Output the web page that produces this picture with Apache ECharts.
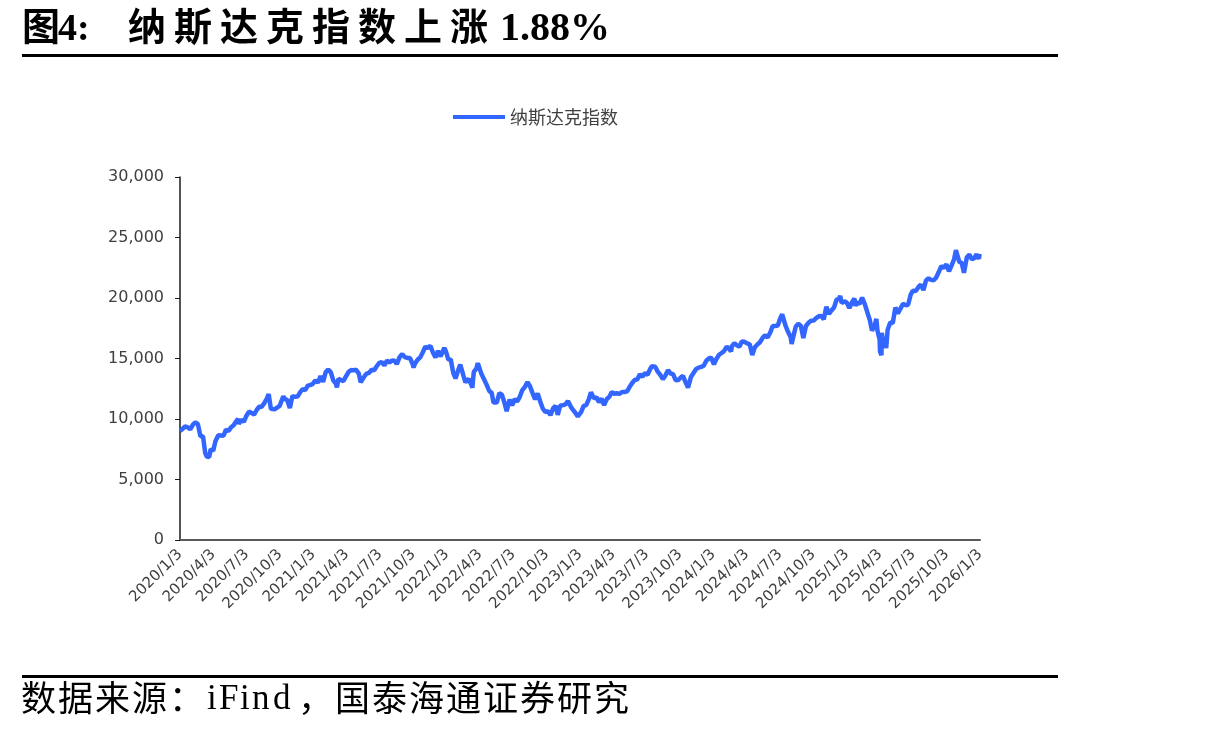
<!DOCTYPE html>
<html>
<head>
<meta charset="utf-8">
<script src="https://cdn.jsdelivr.net/npm/echarts@6/dist/echarts.min.js"></script>
<style>
  html, body { margin: 0; padding: 0; background: #fff; }
  #chart { width: 1213px; height: 731px; }
</style>
</head>
<body>
<div id="chart"></div>
<script>
// 纳斯达克指数 收盘（约每周一个点）
var dates = [
  '2020/1/3','2020/1/10','2020/1/17','2020/1/24','2020/1/31','2020/2/7','2020/2/14','2020/2/19','2020/2/21','2020/2/28',
  '2020/3/6','2020/3/12','2020/3/16','2020/3/20','2020/3/23','2020/3/27','2020/4/3','2020/4/9','2020/4/17','2020/4/24',
  '2020/5/1','2020/5/8','2020/5/15','2020/5/22','2020/5/29','2020/6/5','2020/6/10','2020/6/12','2020/6/19','2020/6/26',
  '2020/7/2','2020/7/10','2020/7/17','2020/7/24','2020/7/31','2020/8/7','2020/8/14','2020/8/21','2020/8/28','2020/9/2',
  '2020/9/8','2020/9/11','2020/9/18','2020/9/23','2020/10/2','2020/10/12','2020/10/16','2020/10/23','2020/10/30','2020/11/6',
  '2020/11/13','2020/11/20','2020/11/27','2020/12/4','2020/12/11','2020/12/18','2020/12/24','2020/12/31',
  '2021/1/8','2021/1/15','2021/1/22','2021/1/29','2021/2/5','2021/2/12','2021/2/19','2021/2/26','2021/3/5','2021/3/8',
  '2021/3/12','2021/3/19','2021/3/26','2021/4/1','2021/4/9','2021/4/16','2021/4/23','2021/4/29','2021/5/7','2021/5/12',
  '2021/5/21','2021/5/28','2021/6/4','2021/6/11','2021/6/18','2021/6/25','2021/7/2','2021/7/9','2021/7/16','2021/7/23',
  '2021/7/30','2021/8/6','2021/8/13','2021/8/19','2021/8/27','2021/9/3','2021/9/7','2021/9/10','2021/9/17','2021/9/24',
  '2021/10/1','2021/10/4','2021/10/8','2021/10/15','2021/10/22','2021/10/29','2021/11/5','2021/11/12','2021/11/19','2021/11/26',
  '2021/12/3','2021/12/10','2021/12/17','2021/12/27','2021/12/31',
  '2022/1/7','2022/1/14','2022/1/21','2022/1/27','2022/2/4','2022/2/9','2022/2/18','2022/2/23','2022/3/4','2022/3/11',
  '2022/3/14','2022/3/18','2022/3/25','2022/3/29','2022/4/8','2022/4/14','2022/4/22','2022/4/29','2022/5/6','2022/5/11',
  '2022/5/20','2022/5/24','2022/5/27','2022/6/3','2022/6/10','2022/6/16','2022/6/24','2022/7/1','2022/7/8','2022/7/15',
  '2022/7/22','2022/7/29','2022/8/5','2022/8/12','2022/8/16','2022/8/19','2022/8/26','2022/9/2','2022/9/9','2022/9/16',
  '2022/9/23','2022/9/30','2022/10/7','2022/10/14','2022/10/21','2022/10/28','2022/11/3','2022/11/10','2022/11/18','2022/11/25',
  '2022/12/1','2022/12/9','2022/12/16','2022/12/22','2022/12/28',
  '2023/1/6','2023/1/13','2023/1/20','2023/1/27','2023/2/2','2023/2/10','2023/2/17','2023/2/24','2023/3/3','2023/3/10',
  '2023/3/17','2023/3/24','2023/3/31','2023/4/7','2023/4/14','2023/4/21','2023/4/28','2023/5/5','2023/5/12','2023/5/19',
  '2023/5/26','2023/6/2','2023/6/9','2023/6/16','2023/6/23','2023/6/30','2023/7/7','2023/7/14','2023/7/19','2023/7/28',
  '2023/8/4','2023/8/11','2023/8/18','2023/8/25','2023/9/1','2023/9/8','2023/9/15','2023/9/22','2023/9/29','2023/10/6',
  '2023/10/12','2023/10/20','2023/10/26','2023/11/3','2023/11/10','2023/11/17','2023/11/24','2023/12/1','2023/12/8','2023/12/15',
  '2023/12/22','2023/12/28',
  '2024/1/5','2024/1/12','2024/1/19','2024/1/26','2024/2/2','2024/2/9','2024/2/16','2024/2/21','2024/2/23','2024/3/1',
  '2024/3/8','2024/3/15','2024/3/21','2024/3/28','2024/4/5','2024/4/12','2024/4/19','2024/4/26','2024/5/3','2024/5/10',
  '2024/5/17','2024/5/24','2024/5/31','2024/6/7','2024/6/14','2024/6/21','2024/6/28','2024/7/5','2024/7/10','2024/7/19',
  '2024/7/24','2024/8/2','2024/8/5','2024/8/9','2024/8/16','2024/8/23','2024/8/30','2024/9/6','2024/9/13','2024/9/20',
  '2024/9/27','2024/10/4','2024/10/11','2024/10/18','2024/10/25','2024/11/1','2024/11/8','2024/11/15','2024/11/22','2024/11/29',
  '2024/12/6','2024/12/13','2024/12/16','2024/12/20','2024/12/27',
  '2025/1/3','2025/1/10','2025/1/17','2025/1/24','2025/1/27','2025/1/31','2025/2/7','2025/2/14','2025/2/19','2025/2/21',
  '2025/2/28','2025/3/7','2025/3/13','2025/3/21','2025/3/25','2025/3/28','2025/4/3','2025/4/4','2025/4/8','2025/4/9',
  '2025/4/11','2025/4/17','2025/4/21','2025/4/25','2025/5/2','2025/5/9','2025/5/16','2025/5/23','2025/5/30','2025/6/6',
  '2025/6/13','2025/6/20','2025/6/27','2025/7/3','2025/7/11','2025/7/18','2025/7/25','2025/8/1','2025/8/8','2025/8/15',
  '2025/8/22','2025/8/29','2025/9/5','2025/9/12','2025/9/19','2025/9/26','2025/10/3','2025/10/10','2025/10/17','2025/10/24',
  '2025/10/29','2025/11/7','2025/11/14','2025/11/20','2025/11/28','2025/12/5','2025/12/12','2025/12/19','2025/12/24','2025/12/31',
  '2026/1/2'
];
var nasdaq = [
  9021,9179,9389,9315,9151,9520,9731,9817,9577,8567,
  8576,7201,6905,6880,6861,7502,7373,8153,8650,8634,
  8605,9121,9015,9325,9490,9815,10020,9589,9946,9757,
  10208,10617,10503,10363,10745,11011,11019,11312,11696,12056,
  10848,10854,10793,10633,11075,11876,11672,11548,10912,11895,
  11830,11855,12206,12464,12378,12756,12805,12888,
  13202,12998,13543,13070,13856,14095,13874,13192,12920,12609,
  13320,13215,13139,13480,13900,14052,14016,14082,13752,13032,
  13471,13748,13814,14069,14030,14360,14639,14701,14427,14837,
  14673,14835,14823,14541,15129,15363,15374,15115,15044,15048,
  14567,14255,14580,14897,15090,15498,15971,15861,16057,15491,
  15085,15630,15169,15871,15645,
  14936,14894,13769,13352,14098,14490,13548,13037,13313,12843,
  12581,13894,14169,14619,13711,13351,12840,12335,12145,11364,
  11355,11264,12131,12013,11340,10646,11608,11128,11635,11452,
  11834,12391,12657,13047,13102,12705,12141,11631,12112,11448,
  10868,10576,10652,10321,10860,11102,10343,11114,11146,11226,
  11482,11005,10705,10477,10213,
  10569,11079,11140,11622,12201,11718,11787,11395,11689,11138,
  11631,11824,12222,12088,12124,12073,12227,12235,12284,12658,
  12976,13241,13260,13689,13493,13788,13661,14114,14358,14317,
  13909,13645,13290,13590,14031,13762,13708,13212,13219,13431,
  13574,12984,12596,13478,13798,14125,14251,14305,14404,14813,
  14993,15095,
  14524,14973,15311,15455,15629,15990,15776,15580,15997,16275,
  16085,15973,16401,16379,16249,16175,15282,15928,16156,16341,
  16686,16921,16735,17133,17689,17689,17733,18353,18647,17727,
  17342,16776,16200,16745,17632,17877,17714,16691,17684,17948,
  18120,18138,18343,18489,18519,18239,19287,18680,18972,19218,
  19860,19927,20174,19573,19722,
  19622,19162,19630,19954,19342,19627,19524,20027,20056,19524,
  18847,18196,17303,17784,18272,17323,16551,15588,15268,17125,
  16724,16287,15870,17383,17978,17929,19212,18737,19114,19530,
  19407,19447,20273,20601,20586,20896,21108,20650,21450,21623,
  21496,21456,21700,22141,22631,22484,22780,22204,22680,23205,
  23958,23005,22900,22078,23366,23578,23195,23307,23613,23242,
  23650
];
// 横轴刻度（每季度一个）
var tickLabels = [
  '2020/1/3','2020/4/3','2020/7/3','2020/10/3','2021/1/3','2021/4/3','2021/7/3','2021/10/3',
  '2022/1/3','2022/4/3','2022/7/3','2022/10/3','2023/1/3','2023/4/3','2023/7/3','2023/10/3',
  '2024/1/3','2024/4/3','2024/7/3','2024/10/3','2025/1/3','2025/4/3','2025/7/3','2025/10/3','2026/1/3'
];
var yTicks = [0, 5000, 10000, 15000, 20000, 25000, 30000];

function dayNum(s) {
  var p = s.split('/');
  return Date.UTC(+p[0], +p[1] - 1, +p[2]) / 86400000;
}
var startDay = dayNum(tickLabels[0]);
var spanDays = dayNum(tickLabels[tickLabels.length - 1]) - startDay;
var quarters = tickLabels.length - 1;
// 以“季度”为横轴单位
var seriesData = dates.map(function (d, i) {
  return [(dayNum(d) - startDay) * quarters / spanDays, nasdaq[i]];
});

// 标题/脚注逐字排列（字间距）
var cjkFont = "'Liberation Serif', 'Noto Sans CJK SC', serif";
function charRow(str, x0, pitch, y, size, weight) {
  return str.split('').map(function (ch, i) {
    return {
      type: 'text', left: x0 + i * pitch, top: y,
      style: { text: ch, font: weight + ' ' + size + 'px ' + cjkFont, fill: '#000' }
    };
  });
}
function placeChars(chars, xs, y, size, weight) {
  return chars.map(function (ch, i) {
    return {
      type: 'text', left: xs[i], top: y,
      style: { text: ch, font: weight + ' ' + size + 'px ' + cjkFont, fill: '#000' }
    };
  });
}

var graphics = [
  { type: 'text', left: 22, top: 11, style: { text: '图', font: 'bold 38px ' + cjkFont, fill: '#000' } },
  { type: 'text', left: 58, top: 11, style: { text: '4:', font: 'bold 38px ' + cjkFont, fill: '#000' } },
  { type: 'text', left: 500, top: 10, style: { text: '1.88%', font: 'bold 40px ' + cjkFont, fill: '#000' } },
  { type: 'rect', shape: { x: 22, y: 54, width: 1036, height: 3 }, style: { fill: '#000' } },
  { type: 'rect', shape: { x: 22, y: 675, width: 1036, height: 3 }, style: { fill: '#000' } }
]
  .concat(charRow('纳斯达克指数上涨', 128, 46, 11, 38, 'bold'))
  .concat(charRow('数据来源：', 21, 37, 684, 35, 'normal'))
  .concat(placeChars(['i', 'F', 'i', 'n', 'd'], [207, 219, 240, 252, 273], 682, 35, 'normal'))
  .concat(charRow('，国泰海通证券研究', 298, 37, 684, 35, 'normal'));

var chart = echarts.init(document.getElementById('chart'));
var option = {
  animation: false,
  backgroundColor: '#fff',
  graphic: graphics,
  legend: {
    data: ['纳斯达克指数'],
    left: 448,
    top: 103,
    icon: 'rect',
    itemWidth: 52,
    itemHeight: 4,
    itemGap: 6,
    textStyle: { fontFamily: 'Noto Sans CJK SC', fontSize: 18, color: '#404040' }
  },
  grid: { left: 180, right: 233, top: 177, bottom: 191 },
  xAxis: {
    type: 'value',
    min: 0,
    max: quarters,
    interval: 1,
    splitLine: { show: false },
    axisTick: { show: false },
    axisLine: { lineStyle: { color: '#595959', width: 2 } },
    axisLabel: {
      rotate: 45,
      margin: 12,
      fontFamily: 'DejaVu Sans',
      fontSize: 15,
      color: '#404040',
      showMinLabel: true,
      showMaxLabel: true,
      formatter: function (v) { return tickLabels[Math.round(v)] || ''; }
    }
  },
  yAxis: {
    type: 'value',
    min: yTicks[0],
    max: yTicks[yTicks.length - 1],
    interval: yTicks[1] - yTicks[0],
    splitLine: { show: false },
    axisLine: { show: true, lineStyle: { color: '#1a1a1a', width: 1.5 } },
    axisTick: { show: true, length: 5, lineStyle: { color: '#1a1a1a' } },
    axisLabel: {
      margin: 16,
      fontFamily: 'DejaVu Sans',
      fontSize: 16,
      color: '#404040',
      formatter: function (v) { return v.toLocaleString('en-US'); }
    }
  },
  series: [{
    name: '纳斯达克指数',
    type: 'line',
    data: seriesData,
    showSymbol: false,
    symbol: 'none',
    lineStyle: { color: '#3366FF', width: 4.5 },
    itemStyle: { color: '#3366FF' }
  }]
};
chart.setOption(option);
</script>
</body>
</html>
